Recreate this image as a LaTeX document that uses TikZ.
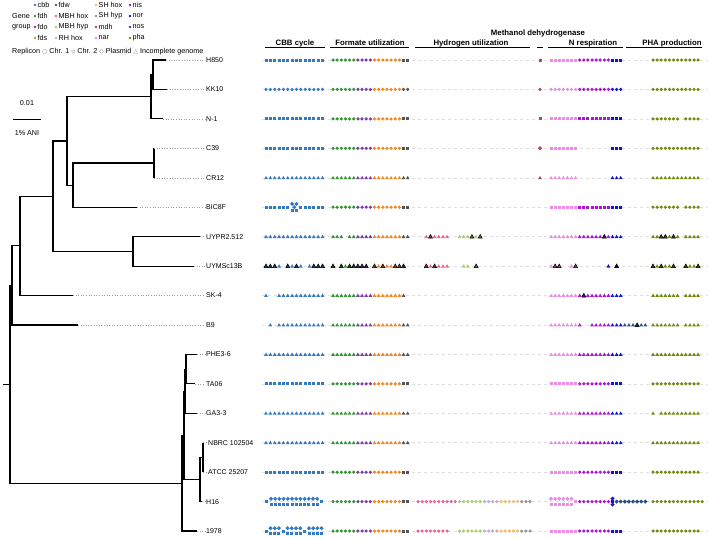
\documentclass[tikz,border=0pt]{standalone}
\usepackage{fontspec}
\setmainfont{Liberation Sans}
\newfontfamily\symf{DejaVu Sans}
\definecolor{gcbb}{RGB}{52,122,192}
\definecolor{gfdh}{RGB}{50,150,50}
\definecolor{gfdo}{RGB}{120,60,170}
\definecolor{gfds}{RGB}{245,135,30}
\definecolor{gfdw}{RGB}{85,85,85}
\definecolor{gmbhhox}{RGB}{235,100,150}
\definecolor{gmbhhyp}{RGB}{165,210,110}
\definecolor{grhhox}{RGB}{195,170,215}
\definecolor{gshhox}{RGB}{250,185,100}
\definecolor{gshhyp}{RGB}{150,150,150}
\definecolor{gmdh}{RGB}{170,70,120}
\definecolor{gnar}{RGB}{235,140,230}
\definecolor{gnis}{RGB}{170,20,210}
\definecolor{gnor}{RGB}{20,20,200}
\definecolor{gnos}{RGB}{40,80,130}
\definecolor{gpha}{RGB}{110,140,10}
% group origins and spacings
\def\gxC{266}\def\gsC{4.35}
\def\gxF{333}\def\gsF{4.15}
\def\gxH{418}\def\gsH{4.15}
\def\gxM{540}\def\gsM{4}
\def\gxN{551}\def\gsN{4.1}
\def\gxP{653}\def\gsP{4.1}
\newcommand\mrun[5]{\edef\myrx{\csname gx#2\endcsname}\edef\myrs{\csname gs#2\endcsname}%
  \foreach \ii in {#3}{\pic[#4] at ({\myrx+\ii*\myrs},#1) {#5};}}
\newcommand\mfullF[3]{\mrun{#1}{F}{0,...,5}{gfdh}{#2}\mrun{#1}{F}{6,...,9}{gfdo}{#2}%
  \mrun{#1}{F}{10,...,16}{gfds}{#2}\mrun{#1}{F}{17,18}{gfdw}{#3}}
\newcommand\mfullN[4]{\mrun{#1}{N}{0,...,6}{gnar}{#2}\mrun{#1}{N}{7,...,14}{gnis}{#3}%
  \mrun{#1}{N}{15,16,17}{gnor}{#4}}
\newcommand\mleg[4]{\fill[#3] (#1,#2) circle (1.3pt);
  \node[txt,anchor=west] (leg-#4) at ({#1+2.5},#2) {#4};}
\begin{document}
\begin{tikzpicture}[x=1pt,y=-1pt,
  tree/.style={line width=1.1pt, line join=miter},
  lead/.style={gray!75, dotted, line width=0.6pt},
  lab/.style={font=\fontsize{7}{8}\selectfont, inner sep=0pt, anchor=west},
  hd/.style={font=\bfseries\fontsize{7.8}{9}\selectfont, inner sep=0pt, anchor=base},
  ul/.style={line width=0.7pt},
  bgd/.style={gray!25, dash pattern=on 3pt off 3pt, line width=0.5pt},
  txt/.style={font=\fontsize{7.2}{8}\selectfont, inner sep=0pt},
  mc/.pic={\fill (0,0) circle (1.75pt);},
  ms/.pic={\fill (-1.5,-1.5) rectangle (1.5,1.5);},
  md/.pic={\fill (0,-2.1) -- (2.1,0) -- (0,2.1) -- (-2.1,0) -- cycle;},
  mt/.pic={\fill (-1.9,1.4) -- (1.9,1.4) -- (0,-1.9) -- cycle;},
  mtk/.pic={\fill (-2,1.5) -- (2,1.5) -- (0,-2.1) -- cycle;
            \fill[black, opacity=0.5] (-2,1.5) -- (2,1.5) -- (0,-2.1) -- cycle;
            \draw[black, line width=0.5pt] (-2,1.5) -- (2,1.5) -- (0,-2.1) -- cycle;}]
\fill[white] (0,0) rectangle (709,538);
\useasboundingbox (0,0) rectangle (709,538);

% ---------- legend ----------
\node[txt,anchor=west] (gene) at (12,16) {Gene};
\node[txt,anchor=west] (group) at (12,27) {group};
\mleg{35}{5}{gcbb}{cbb}
\mleg{35}{16}{gfdh}{fdh}
\mleg{35}{27}{gfdo}{fdo}
\mleg{35}{38}{gfds}{fds}
\mleg{56}{5}{gfdw}{fdw}
\mleg{56}{16}{gmbhhox}{MBH hox}
\mleg{56}{27}{gmbhhyp}{MBH hyp}
\mleg{56}{38}{grhhox}{RH hox}
\mleg{96}{5}{gshhox}{SH hox}
\mleg{96}{16}{gshhyp}{SH hyp}
\mleg{96}{27}{gmdh}{mdh}
\mleg{96}{38}{gnar}{nar}
\mleg{130}{5}{gnis}{nis}
\mleg{130}{16}{gnor}{nor}
\mleg{130}{27}{gnos}{nos}
\mleg{130}{38}{gpha}{pha}
\node[txt,anchor=west] (rep) at (12,52) {Replicon {\symf\fontsize{6}{7}\selectfont\color{gray}○} Chr. 1 {\symf\fontsize{6}{7}\selectfont\color{gray}▫} Chr. 2 {\symf\fontsize{6}{7}\selectfont\color{gray}◇} Plasmid {\symf\fontsize{6}{7}\selectfont\color{gray}△} Incomplete genome};

% ---------- scale bar ----------
\node[txt] (sc1) at (27,103) {0.01};
\coordinate (sbA) at (13,119);
\coordinate (sbB) at (41,119);
\draw[line width=0.9pt] (sbA) -- (sbB);
\node[txt] (sc2) at (27,133) {1\% ANI};

% ---------- headers ----------
\node[hd] (hC) at (295,45) {CBB cycle};
\node[hd] (hF) at (370,45) {Formate utilization};
\node[hd] (hH) at (471,45) {Hydrogen utilization};
\node[hd] (hM) at (538,35) {Methanol dehydrogenase};
\node[hd] (hN) at (593,45) {N respiration};
\node[hd] (hP) at (672,45) {PHA production};
\draw[ul] (265,47.8) -- (325,47.8);
\draw[ul] (330,47.8) -- (409,47.8);
\draw[ul] (415,47.8) -- (530,47.8);
\draw[ul] (537,47.8) -- (543,47.8);
\draw[ul] (548,47.8) -- (623,47.8);
\draw[ul] (626,47.8) -- (702,47.8);

% ---------- row background dashes ----------
\foreach \yy in {60,89.4,118.9,148.3,177.8,207.2,236.6,266.1,295.5,325,354.4,383.8,413.3,442.7,472.2,501.6,531}
  {\draw[bgd] (262,\yy) -- (708,\yy);}

% ---------- tree ----------
\coordinate (tH850) at (166,60);
\coordinate (tKK10) at (167,89.4);
\coordinate (tN1) at (163,118.9);
\coordinate (tC39) at (154,148.3);
\coordinate (tCR12) at (154,177.8);
\coordinate (tBIC) at (137,207.2);
\coordinate (tUYPR) at (200,236.6);
\coordinate (tUYMS) at (194,266.1);
\coordinate (tSK4) at (73,295.5);
\coordinate (tB9) at (78,325);
\coordinate (tPHE) at (197,354.4);
\coordinate (tTA06) at (195,383.8);
\coordinate (tGA3) at (197,413.3);
\coordinate (tNBRC) at (203,442.7);
\coordinate (tATCC) at (203,472.2);
\coordinate (tH16) at (202,501.6);
\coordinate (t1978) at (197,531);
\coordinate (na) at (153,74.7);
\coordinate (nb) at (151,96.8);
\coordinate (nc) at (154,163);
\coordinate (nd) at (73,185.1);
\coordinate (ne) at (67,141);
\coordinate (nf) at (133,251.3);
\coordinate (ng) at (53,196.2);
\coordinate (nh) at (20,245.9);
\coordinate (ni) at (12,285.4);
\coordinate (nj) at (186,369.1);
\coordinate (nk) at (185,391.2);
\coordinate (nl) at (203,457.5);
\coordinate (nm) at (200,479.5);
\coordinate (nn) at (184,435.4);
\coordinate (no) at (182,483.2);
\coordinate (root) at (10,384.3);
\coordinate (stub) at (3,384.3);
\draw[tree] (na) |- (tH850) (na) |- (tKK10) (nb) |- (na) (nb) |- (tN1)
  (nc) |- (tC39) (nc) |- (tCR12) (nd) |- (nc) (nd) |- (tBIC)
  (ne) |- (nb) (ne) |- (nd) (nf) |- (tUYPR) (nf) |- (tUYMS)
  (ng) |- (ne) (ng) |- (nf) (nh) |- (ng) (nh) |- (tSK4)
  (ni) |- (nh) (ni) |- (tB9)
  (nj) |- (tPHE) (nj) |- (tTA06) (nk) |- (nj) (nk) |- (tGA3)
  (nl) |- (tNBRC) (nl) |- (tATCC) (nm) |- (nl) (nm) |- (tH16)
  (nn) |- (nk) (nn) |- (nm) (no) |- (nn) (no) |- (t1978)
  (root) |- (ni) (root) |- (no) (stub) -- (root);

% ---------- leaf labels ----------
\node[lab] (lH850) at (206,60) {H850};
\node[lab] (lKK10) at (206,89.4) {KK10};
\node[lab] (lN1) at (206,118.9) {N-1};
\node[lab] (lC39) at (206,148.3) {C39};
\node[lab] (lCR12) at (206,177.8) {CR12};
\node[lab] (lBIC) at (206,207.2) {BIC8F};
\node[lab] (lUYPR) at (206,236.6) {UYPR2.512};
\node[lab] (lUYMS) at (206,266.1) {UYMSc13B};
\node[lab] (lSK4) at (206,295.5) {SK-4};
\node[lab] (lB9) at (206,325) {B9};
\node[lab] (lPHE) at (206,354.4) {PHE3-6};
\node[lab] (lTA06) at (206,383.8) {TA06};
\node[lab] (lGA3) at (206,413.3) {GA3-3};
\node[lab] (lNBRC) at (208,442.7) {NBRC 102504};
\node[lab] (lATCC) at (208,472.2) {ATCC 25207};
\node[lab] (lH16) at (206,501.6) {H16};
\node[lab] (l1978) at (206,531) {1978};
\foreach \a/\b in {tH850/lH850,tKK10/lKK10,tN1/lN1,tC39/lC39,tCR12/lCR12,tBIC/lBIC,tUYPR/lUYPR,tUYMS/lUYMS,tSK4/lSK4,tB9/lB9,tPHE/lPHE,tTA06/lTA06,tGA3/lGA3,tNBRC/lNBRC,tATCC/lATCC,tH16/lH16,t1978/l1978}
  {\draw[lead] (\a) -- ([xshift=-1pt]\b.west);}

% ---------- markers ----------
% H850
\mrun{60}{C}{0,...,13}{gcbb}{ms}
\mfullF{60}{mc}{ms}
\mrun{60}{M}{0}{gmdh}{ms}
\mfullN{60}{ms}{mc}{ms}
\mrun{60}{P}{0,...,11}{gpha}{mc}
% KK10
\mrun{89.4}{C}{0,...,13}{gcbb}{mc}
\mfullF{89.4}{mc}{mc}
\mrun{89.4}{M}{0}{gmdh}{mc}
\mfullN{89.4}{mc}{mc}{mc}
\mrun{89.4}{P}{0,...,11}{gpha}{mc}
% N-1
\mrun{118.9}{C}{0,...,13}{gcbb}{ms}
\mfullF{118.9}{mc}{ms}
\mrun{118.9}{M}{0}{gmdh}{ms}
\mfullN{118.9}{ms}{ms}{ms}
\mrun{118.9}{P}{0,1,2,3,4,5,6,8,9,10,11}{gpha}{mc}
% C39
\mrun{148.3}{C}{0,...,13}{gcbb}{ms}
\mfullF{148.3}{mc}{ms}
\mrun{148.3}{M}{0}{gmdh}{md}
\mrun{148.3}{N}{0,...,6}{gnar}{ms}
\mrun{148.3}{N}{15,16,17}{gnor}{ms}
\mrun{148.3}{P}{0,...,11}{gpha}{mc}
% CR12
\mrun{177.8}{C}{0,...,13}{gcbb}{mt}
\mfullF{177.8}{mt}{mt}
\mrun{177.8}{M}{0}{gmdh}{mt}
\mrun{177.8}{N}{0,...,6}{gnar}{mt}
\mrun{177.8}{N}{15,16,17}{gnor}{mt}
\mrun{177.8}{P}{0,...,11}{gpha}{mt}
% BIC8F
\mrun{207.2}{C}{0,1,2,3,4,5,8,9,10,11,12,13}{gcbb}{ms}
\mrun{203.9}{C}{6,7}{gcbb}{md}
\mrun{210.5}{C}{6,7}{gcbb}{ms}
\pic[gcbb] at (294.3,207.2) {md};
\mfullF{207.2}{mc}{ms}
\mfullN{207.2}{ms}{ms}{ms}
\mrun{207.2}{P}{0,1,2,3,4,5,6,8,9,10,11}{gpha}{mc}
% UYPR2.512
\mrun{236.6}{C}{0,...,13}{gcbb}{mt}
\mrun{236.6}{F}{0,1,2,4,5}{gfdh}{mt}
\mrun{236.6}{F}{6,...,9}{gfdo}{mt}
\mrun{236.6}{F}{10,...,16}{gfds}{mt}
\mrun{236.6}{F}{17,18}{gfdw}{mt}
\mrun{236.6}{H}{2,4,5,6,7}{gmbhhox}{mt}
\mrun{236.6}{H}{3}{gmbhhox}{mtk}
\mrun{236.6}{H}{10,11,12,14}{gmbhhyp}{mt}
\mrun{236.6}{H}{13,15}{gmbhhyp}{mtk}
\mrun{236.6}{N}{0,...,6}{gnar}{mt}
\mrun{236.6}{N}{7,8,9,10,11,12,14}{gnis}{mt}
\mrun{236.6}{N}{13}{gnis}{mtk}
\mrun{236.6}{N}{15,16,17}{gnor}{mt}
\mrun{236.6}{P}{0,1,4,6,8,9,10,11}{gpha}{mt}
\mrun{236.6}{P}{2,3,5}{gpha}{mtk}
% UYMSc13B
\mrun{266.1}{C}{3,6,8,10}{gcbb}{mt}
\mrun{266.1}{C}{0,1,2,5,7,11,12,13}{gcbb}{mtk}
\mrun{266.1}{F}{3}{gfdh}{mt}
\mrun{266.1}{F}{0,2,4,5}{gfdh}{mtk}
\mrun{266.1}{F}{6,7,8}{gfdo}{mtk}
\mrun{266.1}{F}{11,13,14}{gfds}{mt}
\mrun{266.1}{F}{10,12,15,16}{gfds}{mtk}
\mrun{266.1}{F}{17}{gfdw}{mtk}
\mrun{266.1}{H}{3,5,6,7}{gmbhhox}{mt}
\mrun{266.1}{H}{2,4}{gmbhhox}{mtk}
\mrun{266.1}{H}{11,12}{gmbhhyp}{mt}
\mrun{266.1}{H}{14}{gmbhhyp}{mtk}
\mrun{266.1}{N}{0,5}{gnar}{mt}
\mrun{266.1}{N}{1,2,6}{gnar}{mtk}
\mrun{266.1}{N}{14}{gnor}{mt}
\mrun{266.1}{N}{16}{gnor}{mtk}
\mrun{266.1}{P}{1,3,4,9,10}{gpha}{mt}
\mrun{266.1}{P}{0,2,5,8,11}{gpha}{mtk}
% SK-4
\mrun{295.5}{C}{0,3,4,5,6,7,8,9,10,11,12,13}{gcbb}{mt}
\mrun{295.5}{F}{0,...,5}{gfdh}{mt}
\mrun{295.5}{F}{6,...,9}{gfdo}{mt}
\mrun{295.5}{F}{10,...,16}{gfds}{mt}
\mrun{295.5}{F}{17}{gfdw}{mt}
\mrun{295.5}{N}{0,...,6}{gnar}{mt}
\mrun{295.5}{N}{7,9,10,11,12,13,14}{gnis}{mt}
\mrun{295.5}{N}{8}{gnis}{mtk}
\mrun{295.5}{N}{15,16,17}{gnor}{mt}
\mrun{295.5}{P}{0,1,2,3,4,5,6,8,9,10,11}{gpha}{mt}
% B9
\mrun{325}{C}{1,3,4,5,6,7,8,9,10,11,12,13}{gcbb}{mt}
\mfullF{325}{mt}{mt}
\mrun{325}{N}{0,...,6}{gnar}{mt}
\mrun{325}{N}{7,10,11,12,13,14}{gnis}{mt}
\mrun{325}{N}{15,16,17}{gnor}{mt}
\mrun{325}{N}{18,19,20,22,23}{gnos}{mt}
\mrun{325}{N}{21}{gnos}{mtk}
\mrun{325}{P}{0,1,2,3,4,5,6,8,9,10,11}{gpha}{mt}
% PHE3-6
\mrun{354.4}{C}{0,...,13}{gcbb}{mt}
\mfullF{354.4}{mt}{mt}
\mfullN{354.4}{mt}{mt}{mt}
\mrun{354.4}{P}{0,...,11}{gpha}{mt}
% TA06
\mrun{383.8}{C}{0,...,13}{gcbb}{ms}
\mfullF{383.8}{mc}{ms}
\mfullN{383.8}{ms}{mc}{ms}
\mrun{383.8}{P}{0,...,11}{gpha}{mc}
% GA3-3
\mrun{413.3}{C}{0,...,13}{gcbb}{mt}
\mfullF{413.3}{mt}{mt}
\mfullN{413.3}{mt}{mt}{mt}
\mrun{413.3}{P}{0,2,3,4,5,6,7,8,9,10,11}{gpha}{mt}
% NBRC 102504
\mrun{442.7}{C}{0,...,13}{gcbb}{mt}
\mfullF{442.7}{mt}{mt}
\mfullN{442.7}{mt}{mt}{mt}
\mrun{442.7}{P}{0,...,11}{gpha}{mt}
% ATCC 25207
\mrun{472.2}{C}{0,...,13}{gcbb}{ms}
\mfullF{472.2}{mc}{ms}
\mfullN{472.2}{ms}{mc}{ms}
\mrun{472.2}{P}{0,...,11}{gpha}{mc}
% H16
\pic[gcbb] at (266,501.6) {ms};
\foreach \ii in {0,...,11}{\pic[gcbb] at ({271+\ii*4.2},498.8) {md}; \pic[gcbb] at ({271+\ii*4.2},504.4) {ms};}
\pic[gcbb] at (321.5,501.6) {ms};
\mfullF{501.6}{mc}{ms}
\mrun{501.6}{H}{0,...,9}{gmbhhox}{mc}
\mrun{501.6}{H}{10,...,15}{gmbhhyp}{mc}
\mrun{501.6}{H}{16,...,19}{grhhox}{mc}
\mrun{501.6}{H}{20,...,24}{gshhox}{mc}
\mrun{501.6}{H}{25,26,27}{gshhyp}{mc}
\mrun{498.8}{N}{0,...,5}{gnar}{md}
\mrun{504.4}{N}{0,...,5}{gnar}{ms}
\mrun{501.6}{N}{6}{gnar}{ms}
\mrun{501.6}{N}{7,...,14}{gnis}{mc}
\mrun{498.6}{N}{15}{gnor}{md}
\mrun{504.6}{N}{15}{gnor}{md}
\mrun{501.6}{N}{15}{gnor}{ms}
\mrun{501.6}{N}{16,...,23}{gnos}{md}
\mrun{501.6}{P}{0,...,12}{gpha}{mc}
% 1978
\foreach \xx in {266,283.3,304.6}{\pic[gcbb] at (\xx,531) {ms};}
\foreach \xx in {270.5,274.7,278.9,287.6,291.8,296,300.2,309,313.2,317.4,321.6}
  {\pic[gcbb] at (\xx,528.2) {md}; \pic[gcbb] at (\xx,533.8) {ms};}
\mfullF{531}{mc}{ms}
\mrun{531}{H}{0,...,7}{gmbhhox}{mc}
\mrun{531}{H}{10,...,15}{gmbhhyp}{mc}
\mrun{531}{H}{16,...,19}{grhhox}{mc}
\mrun{531}{H}{20,...,24}{gshhox}{mc}
\mrun{531}{H}{25,26,27}{gshhyp}{mc}
\mfullN{531}{ms}{mc}{ms}
\mrun{531}{P}{0,...,11}{gpha}{mc}
\end{tikzpicture}
\end{document}
